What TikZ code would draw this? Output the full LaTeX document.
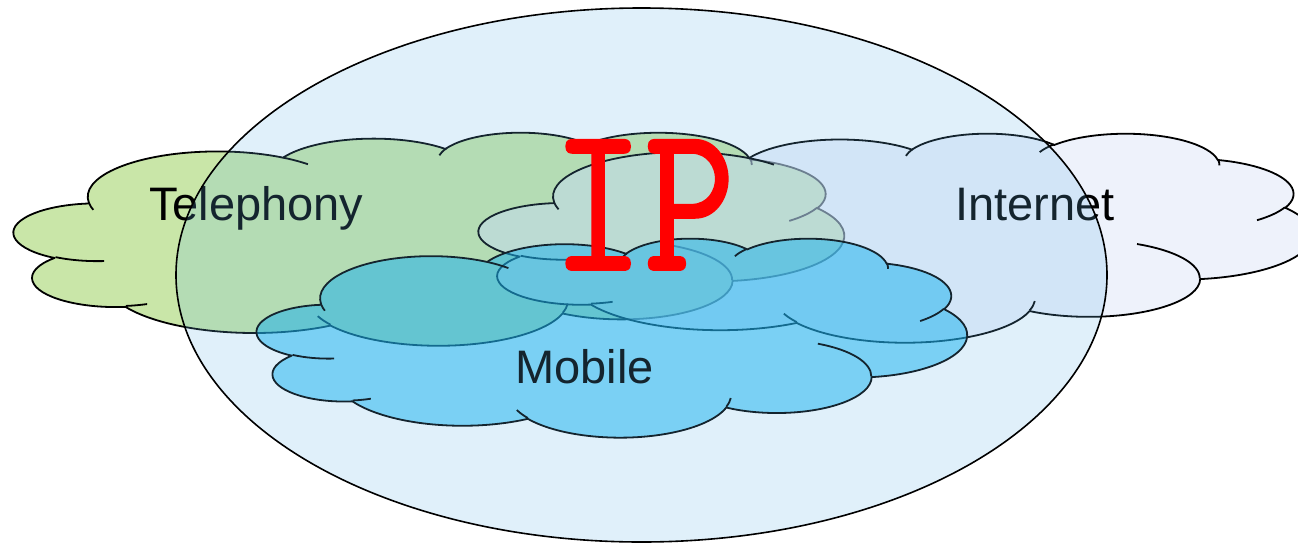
\documentclass[tikz,border=0pt]{standalone}
\usepackage{fontspec}
\setmainfont{Liberation Sans}
\newfontfamily\ipfont[FakeBold=0.9]{lmmono10-regular.otf}
\definecolor{telgreen}{RGB}{201,230,168}
\definecolor{netblue}{RGB}{221,229,247}
\definecolor{mobblue}{RGB}{0,176,240}
\definecolor{iptint}{RGB}{100,180,230}
% arcs of the cloud outline (unit box 4320 x 4320), visual angles -> parametric
\newcommand\defarc[5]{%
  \pgfmathsetmacro\tmpS{atan2((#2)*sin(#4),(#3)*cos(#4))}%
  \pgfmathsetmacro\tmpE{atan2((#2)*sin((#4)+(#5)),(#3)*cos((#4)+(#5)))}%
  \pgfmathsetmacro\tmpD{mod(\tmpE-(\tmpS)+720,360)}%
  \expandafter\xdef\csname cloudS#1\endcsname{\tmpS}%
  \expandafter\xdef\csname cloudD#1\endcsname{\tmpD}%
  \expandafter\xdef\csname cloudX#1\endcsname{#2}%
  \expandafter\xdef\csname cloudY#1\endcsname{#3}%
}
\defarc{1}{675.3}{919.0}{-190.4875}{123.7805}
\defarc{2}{533.3}{726.7}{-144.1024}{89.9452}
\defarc{3}{436.5}{594.5}{-145.8079}{99.7230}
\defarc{4}{485.7}{659.5}{-130.9861}{117.2417}
\defarc{5}{533.3}{727.3}{-78.7089}{109.0269}
\defarc{6}{677.5}{922.0}{-46.2673}{130.2690}
\defarc{7}{578.5}{786.7}{0.6250}{114.0333}
\defarc{8}{675.2}{921.5}{22.4516}{115.1726}
\defarc{9}{772.0}{1054.3}{66.2426}{75.7110}
\defarc{10}{436.0}{591.8}{-274.9421}{146.7356}
\defarc{11}{434.5}{594.5}{-246.8285}{152.5189}
\defarc{h1}{434.5}{594.5}{86.7420}{26.4295}
\defarc{h2}{436.0}{591.8}{73.6105}{11.4475}
\defarc{h3}{675.2}{921.5}{137.6242}{14.0811}
\defarc{h4}{675.2}{921.5}{6.4533}{15.9984}
\defarc{h5}{578.5}{786.7}{-70.2924}{70.9174}
\defarc{h6}{533.3}{727.3}{30.3180}{27.7515}
\defarc{h7}{485.7}{659.5}{-13.7443}{14.8507}
\defarc{h8}{485.7}{659.5}{-149.1815}{18.1976}
\defarc{h9}{436.5}{594.5}{-163.4943}{17.6872}
\defarc{h10}{675.3}{919.0}{-66.7070}{12.3194}
\defarc{h11}{675.3}{919.0}{157.6544}{11.8582}
\newcommand\carc[1]{arc[start angle=\csname cloudS#1\endcsname, delta angle=\csname cloudD#1\endcsname, x radius=\csname cloudX#1\endcsname, y radius=\csname cloudY#1\endcsname]}
\newcommand\cloudoutline{(390,1437) \carc{1} \carc{2} \carc{3} \carc{4} \carc{5} \carc{6} \carc{7} \carc{8} \carc{9} \carc{10} \carc{11} -- cycle}
\newcommand\cloudhints{(469.3,2617.7) \carc{h1} (692.8,3489.9) \carc{h2} (1647.8,3909.0) \carc{h3} (2882.7,3475.1) \carc{h4} (3412.9,2295.4) \carc{h5} (4179.8,1535.4) \carc{h6} (3832.4,542.6) \carc{h7} (2907.8,395.2) \carc{h8} (2214.1,472.0) \carc{h9} (1400.0,519.2) \carc{h10} (412.7,1578.9) \carc{h11}}
\tikzset{
  cloudline/.style={draw=black, line width=1.8pt, line join=round},
  cloudbox/.style n args={4}{shift={(#1,#2)}, x={(#3pt/4320,0pt)}, y={(0pt,-#4pt/4320)}},
  labeltext/.style={anchor=base west, inner sep=0pt, text=black, font=\fontsize{47}{50}\selectfont},
}
\begin{document}
\begin{tikzpicture}[x=1pt, y=-1pt]
\useasboundingbox (0,0) rectangle (1298,544);
% Telephony cloud
\begin{scope}[cloudbox={14}{132}{830}{213}]
  \path[cloudline, fill=telgreen] \cloudoutline;
  \path[cloudline] \cloudhints;
\end{scope}
\node[labeltext] (tel) at (149,220) {Telephony};
% Internet cloud
\begin{scope}[cloudbox={479}{133}{833}{209}]
  \path[cloudline, fill=netblue, fill opacity=0.5] \cloudoutline;
  \path[cloudline] \cloudhints;
\end{scope}
\node[labeltext] (net) at (955,220) {Internet};
% Mobile cloud
\begin{scope}[cloudbox={257}{238}{710}{199}]
  \path[cloudline, fill=mobblue, fill opacity=0.5] \cloudoutline;
  \path[cloudline] \cloudhints;
\end{scope}
\node[labeltext] (mob) at (515,383) {Mobile};
% IP ellipse
\path[draw=black, line width=1.6pt, fill=iptint, fill opacity=0.2] (641.5,275) ellipse [x radius=465.5, y radius=267];
\node[anchor=base, inner sep=0pt, text=red, font=\ipfont\fontsize{213}{213}\selectfont, xscale=0.82] (ip) at (644,270) {IP};
\end{tikzpicture}
\end{document}
